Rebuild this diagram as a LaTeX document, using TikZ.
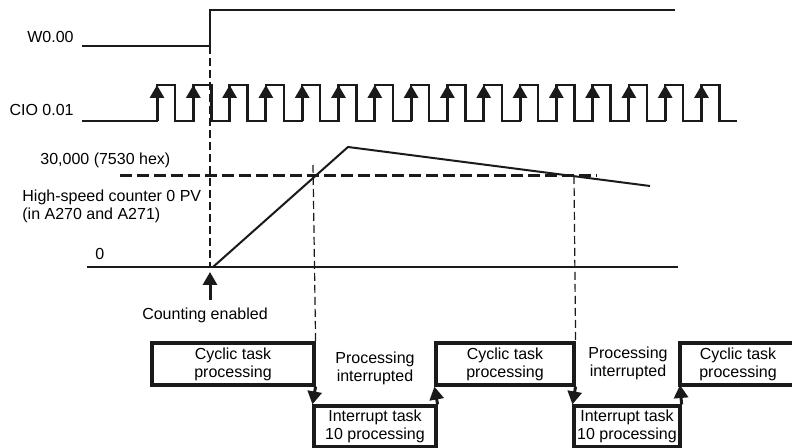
\documentclass[tikz,border=0pt]{standalone}
\usepackage{fontspec}
\setmainfont{Liberation Sans}
\usetikzlibrary{arrows.meta}

\begin{document}
\begin{tikzpicture}[x=0.5pt, y=-0.5pt, font=\fontsize{8}{9}\selectfont,
    signal/.style={draw=borderColour, line width=1.2pt},
    sigtext/.style={inner sep=0pt},
    edgearrow/.style={draw=borderColour, line width=1.5pt, -{Triangle[width=7pt,length=6.5pt]}},
    guide/.style={draw=borderColour, line width=0.6pt, dash pattern=on 4pt off 2pt},
    threshold/.style={draw=borderColour, line width=1.5pt, dash pattern=on 6pt off 2.5pt},
    cyclicbox/.style={draw=borderColour, line width=1.6pt, minimum height=21pt, inner sep=0pt, align=center},
    interruptbox/.style={draw=borderColour, line width=1.6pt, minimum height=20.5pt, inner sep=0pt, align=center}]
    \definecolor{borderColour}{HTML}{1A1A1A}

    \def\pulsePeriod{36.3}
    \def\pulseWidth{18}

    \useasboundingbox (0,0) rectangle (792,448);

    % Draw W0.00
    \coordinate (w0rise) at (210,46);
    \node[sigtext, anchor=base east] (w0) at (74,43) {W0.00};
    \draw[signal] (82,46) -- (w0rise) -- (210,10) -- (675,10);

    % Draw CIO 0.01 pulses
    \node[sigtext, anchor=base east] (cio) at (74,116) {CIO 0.01};
    \draw[signal] (82,121) foreach \k in {0,...,15} {
        -- ({157+\k*\pulsePeriod},121) -- ++(0,-36) -- ++(\pulseWidth,0) -- ++(0,36)} -- (737,121);
    \foreach \k in {0,...,15}
        \draw[edgearrow] ({157+\k*\pulsePeriod},121) -- ++(0,-36);

    % High-speed counter PV
    \coordinate (start) at (213,267);
    \coordinate (peak) at (348,147);
    \coordinate (fall) at (650,186);
    \node[sigtext, anchor=base west] (limit) at (40,165) {30,000 (7530 hex)};
    \node[sigtext, anchor=west, align=left] (pv) at (22,206) {High-speed counter 0 PV\\(in A270 and A271)};
    \node[sigtext, anchor=base west] (zero) at (95,260) {0};
    \draw[signal] (87,267) -- (678,267);
    \draw[threshold] (120,176) -- (597,176);
    \draw[borderColour, line width=1pt] (start) -- (peak) -- (fall);

    % Counting enabled
    \coordinate (enable) at (210,272);
    \node (cnt) at (205,315) {Counting enabled};
    \draw[edgearrow] (enable |- cnt.north) -- (enable);

    % Task boxes
    \node[cyclicbox, minimum width=81pt] (cyc1) at (233,364) {Cyclic task\\processing};
    \node[interruptbox, minimum width=61pt] (int1) at (375,426.5) {Interrupt task\\10 processing};
    \node[cyclicbox, minimum width=69pt] (cyc2) at (505,364) {Cyclic task\\processing};
    \node[interruptbox, minimum width=53pt] (int2) at (627,426.5) {Interrupt task\\10 processing};
    \coordinate (cyc3sw) at (680,385);
    \draw[borderColour, line width=1.6pt] (792,343) -- (680,343) -- (cyc3sw) -- (792,385);
    \node[align=center] (cyc3) at (738,364) {Cyclic task\\processing};

    \node[align=center] (halt1) at (375,368) {Processing\\interrupted};
    \node[align=center] (halt2) at (628,363) {Processing\\interrupted};

    % Task switching
    \draw[edgearrow] (cyc1.south east) -- (int1.north west);
    \draw[edgearrow] (int1.north east) -- (cyc2.south west);
    \draw[edgearrow] (cyc2.south east) -- (int2.north west);
    \draw[edgearrow] (int2.north east) -- (cyc3sw);

    % Dashed guides
    \draw[guide] (w0rise) -- (210,267);
    \draw[guide] (313,165) -- (cyc1.north east);
    \draw[guide] (574,176) -- (cyc2.north east);

\end{tikzpicture}
\end{document}
